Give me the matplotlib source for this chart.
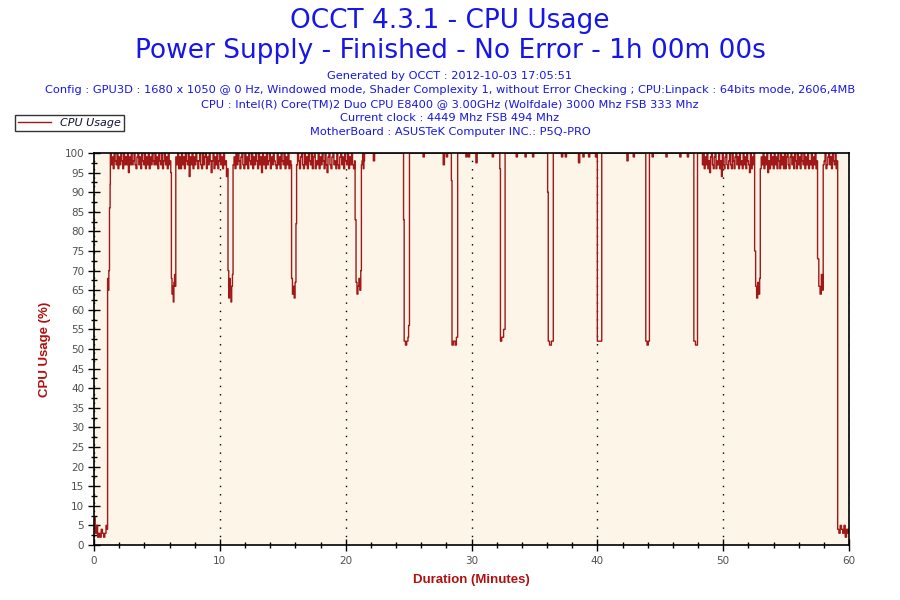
import numpy as np
import matplotlib
matplotlib.use('Agg')
import matplotlib.pyplot as plt
from matplotlib.ticker import MultipleLocator

# ----------------------------------------------------------------------------
# Data (CPU usage in %)
# each segment: start minute, end minute, values sampled evenly in between
# ----------------------------------------------------------------------------
idle_start = [7, 3, 5, 2, 3, 2, 4, 3, 2, 3, 5, 4]
ramp_up = [68, 65, 70, 86, 92]
busy_1 = [100, 97, 99, 96, 100, 98, 97, 100, 96, 99, 97, 100, 98, 96, 100, 97,
          99, 97, 100, 95, 99, 97, 100, 97, 98, 100, 97, 96, 99, 100, 97, 99,
          96, 100, 98, 97, 100, 96, 99, 97, 100, 96, 99, 97, 100, 98, 97, 100,
          97, 99, 96, 100, 98, 97, 100, 96, 98, 100, 97, 99, 96, 100, 97, 98]
dip_1 = [95, 68, 64, 66, 62, 67, 69, 66]
busy_2 = [99, 97, 100, 96, 99, 96, 100, 97, 99, 96, 100, 98, 97, 100, 94, 99,
          97, 100, 96, 99, 97, 100, 98, 96, 98, 100, 97, 96, 100, 97, 99, 100,
          96, 99, 97, 100, 98, 95, 98, 100, 96, 99, 97, 100, 96, 98, 100, 97,
          99, 96, 100, 97, 98, 94, 96]
dip_2 = [70, 63, 68, 65, 62, 66, 69]
busy_3 = [97, 99, 96, 100, 97, 100, 98, 96, 99, 100, 97, 96, 100, 97, 99, 96,
          100, 98, 97, 100, 96, 99, 97, 100, 98, 96, 100, 97, 99, 95, 100, 97,
          99, 96, 100, 97, 98, 100, 96, 99, 97, 100, 98, 97, 96, 100, 97, 99,
          96, 100, 98, 97, 100, 96, 99, 97, 100, 96, 98, 97]
dip_3 = [68, 64, 66, 63, 67, 82]
busy_4 = [97, 100, 98, 96, 99, 100, 97, 96, 100, 97, 99, 96, 100, 98, 97, 100,
          96, 99, 100, 96, 98, 97, 100, 96, 99, 97, 100, 98, 96, 100, 97, 95,
          99, 100, 97, 96, 99, 100, 97, 98, 96, 100, 97, 96, 99, 100, 97, 99,
          96, 100, 98, 97, 100, 96, 99, 97, 100, 97, 96, 98]
dip_4 = [83, 67, 64, 66, 68, 65, 70]
busy_5 = [97, 98, 100, 96, 98, 100]

# steady linpack phase: mostly 100% with short blips and deep dips
steady_minutes = [21.55, 22.2, 22.3, 24.6, 24.65, 24.75, 24.85, 24.95, 25.0, 25.07,
                  26.15, 26.25, 27.75, 27.85, 28.0, 28.1, 28.4, 28.45, 28.55, 28.7,
                  28.8, 28.9, 29.55, 29.65, 29.75, 29.85, 30.35, 30.45, 31.65, 31.75,
                  32.25, 32.3, 32.4, 32.55, 32.67, 33.55, 33.65, 34.25, 34.35, 34.85,
                  34.95, 36.05, 36.1, 36.2, 36.35, 36.5, 37.15, 37.25, 37.45, 37.55,
                  38.5, 38.6, 38.85, 38.95, 39.3, 39.4, 39.85, 39.95, 40.0, 40.15,
                  40.25, 40.35, 42.35, 42.45, 42.85, 42.95, 43.85, 43.95, 44.05, 44.14,
                  44.35, 44.45, 45.45, 45.55, 46.55, 46.65, 47.15, 47.25, 47.67, 47.8,
                  47.96]
steady_cpu = [100, 98, 100, 83, 52, 51, 52, 53, 56, 100,
              99, 100, 97, 100, 99, 100, 93, 51, 52, 51,
              53, 100, 99, 100, 99, 100, 97.5, 100, 99, 100,
              96, 52, 53, 55, 100, 99, 100, 99, 100, 99,
              100, 90, 52, 51, 52, 100, 99, 100, 99, 100,
              97.5, 100, 99, 100, 99, 100, 99, 100, 52, 52,
              52, 100, 98, 100, 99, 100, 52, 51, 52, 100,
              99, 100, 99, 100, 99, 100, 99, 100, 52, 51,
              100]

busy_6 = [97, 100, 96, 99, 97, 100, 96, 98, 95, 99, 100, 97, 96, 99, 100, 96,
          98, 97, 100, 96, 98, 94, 100, 97, 96, 99, 100, 97, 96, 98, 100, 97,
          96, 100, 98, 96, 99, 100, 97, 99, 96, 100, 97, 98, 96, 100, 97, 99,
          96, 100, 98, 97, 95, 100, 96, 99, 97, 100]
dip_5 = [75, 66, 63, 67, 64, 68]
busy_7 = [96, 99, 97, 100, 96, 99, 97, 100, 95, 98, 96, 100, 97, 99, 96, 100,
          97, 99, 96, 100, 98, 96, 100, 97, 99, 96, 100, 96, 99, 100, 97, 96,
          99, 100, 97, 99, 96, 100, 98, 96, 100, 97, 99, 96, 100, 98, 97, 100,
          96, 99, 97, 100, 96, 98, 97, 100, 96, 99, 97, 100, 96, 98]
dip_6 = [73, 66, 64, 69, 65]
busy_8 = [97, 98, 100, 96, 97, 99, 100, 97, 99, 96, 100, 98, 97, 100, 96, 98]
idle_end = [4, 3, 5, 4, 3, 5, 2, 4, 3, 4]

segments = [
    (0.0, 1.05, idle_start),
    (1.08, 1.28, ramp_up),
    (1.3, 6.05, busy_1),
    (6.1, 6.45, dip_1),
    (6.5, 10.6, busy_2),
    (10.65, 11.0, dip_2),
    (11.05, 15.65, busy_3),
    (15.7, 16.05, dip_3),
    (16.1, 20.7, busy_4),
    (20.75, 21.2, dip_4),
    (21.25, 21.5, busy_5),
    (48.35, 52.45, busy_6),
    (52.5, 52.9, dip_5),
    (52.95, 57.45, busy_7),
    (57.5, 57.9, dip_6),
    (57.95, 59.05, busy_8),
    (59.1, 60.0, idle_end),
]

minutes = []
cpu = []
for start, end, values in segments:
    minutes.extend(np.linspace(start, end, len(values)))
    cpu.extend(values)
minutes.extend(steady_minutes)
cpu.extend(steady_cpu)
minutes.extend([47.96, 48.3])
cpu.extend([100, 100])

order = np.argsort(minutes, kind='stable')
minutes = np.array(minutes)[order]
cpu = np.array(cpu)[order]

# ----------------------------------------------------------------------------
# Figure
# ----------------------------------------------------------------------------
line_color = '#a01818'
title_color = '#1616e8'
label_color = '#b01010'

fig = plt.figure(figsize=(9, 6), dpi=100)
ax = fig.add_axes([94 / 900, 55 / 600, 755 / 900, 392 / 600])
ax.set_facecolor('#fdf6e8')

line, = ax.plot(minutes, cpu, color=line_color, linewidth=1.0,
                drawstyle='steps-post', label='CPU Usage')

ax.set_xlim(0, 60)
ax.set_ylim(0, 100)
ax.xaxis.set_major_locator(MultipleLocator(10))
ax.xaxis.set_minor_locator(MultipleLocator(2))
ax.yaxis.set_major_locator(MultipleLocator(5))
ax.yaxis.set_minor_locator(MultipleLocator(2.5))
ax.tick_params(which='major', direction='inout', length=8, width=1,
               labelsize=7.5, labelcolor='#505050', color='black')
ax.tick_params(which='minor', direction='inout', length=5, width=1, color='black')
ax.tick_params(axis='x', pad=4)
ax.tick_params(axis='y', pad=3)

for spine in ax.spines.values():
    spine.set_linewidth(1.2)
    spine.set_color('black')

# dotted vertical grid every 10 minutes
ax.grid(True, axis='x', which='major', color='black', linestyle=(0, (1, 5)),
        linewidth=1)
ax.set_axisbelow(True)

ax.set_xlabel('Duration (Minutes)', color=label_color, fontsize=9.5,
              fontweight='bold', labelpad=6, family='Liberation Sans')
ax.set_ylabel('CPU Usage (%)', color=label_color, fontsize=9.5,
              fontweight='bold', labelpad=10, family='Liberation Sans')

# titles
fig.text(0.5, 1 - 21 / 600, 'OCCT 4.3.1 - CPU Usage', ha='center', va='center',
         fontsize=19, color=title_color)
fig.text(0.5, 1 - 51 / 600, 'Power Supply - Finished - No Error - 1h 00m 00s',
         ha='center', va='center', fontsize=19, color=title_color)

info_lines = [
    'Generated by OCCT : 2012-10-03 17:05:51',
    'Config : GPU3D : 1680 x 1050 @ 0 Hz, Windowed mode, Shader Complexity 1, '
    'without Error Checking ; CPU:Linpack : 64bits mode, 2606,4MB',
    'CPU : Intel(R) Core(TM)2 Duo CPU E8400 @ 3.00GHz (Wolfdale) 3000 Mhz FSB 333 Mhz',
    'Current clock : 4449 Mhz FSB 494 Mhz',
    'MotherBoard : ASUSTeK Computer INC.: P5Q-PRO',
]
for i, txt in enumerate(info_lines):
    fig.text(0.5, 1 - (76 + 14 * i) / 600, txt, ha='center', va='center',
             fontsize=8.2, color=title_color)

leg = fig.legend(handles=[line], loc='upper left',
                 bbox_to_anchor=(15 / 900, 1 - 115 / 600),
                 frameon=True, fancybox=False, edgecolor='black',
                 prop={'style': 'italic', 'size': 8}, handlelength=3.0,
                 borderpad=0.25, borderaxespad=0, handletextpad=0.8)
leg.get_frame().set_linewidth(1)
for t in leg.get_texts():
    t.set_color('#111133')

fig.savefig('out.png', dpi=100)
